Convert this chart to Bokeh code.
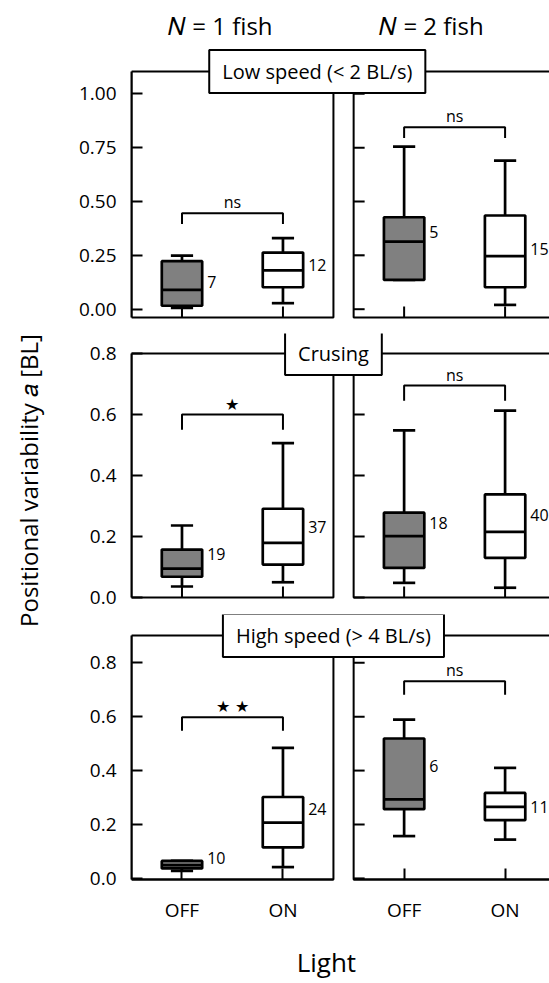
import math
from bokeh.plotting import figure
from bokeh.models import (ColumnDataSource, LinearAxis, FixedTicker, Label,
                          Range1d, NumeralTickFormatter)
from bokeh.layouts import column, row
from bokeh.embed import file_html
from bokeh.resources import INLINE
from bokeh.core.properties import value

# ---------------- data ----------------
groups = ["\U0001D441 = 1 fish", "\U0001D441 = 2 fish"]
light = ["OFF", "ON"]
speed_labels = ["Low speed (< 2 BL/s)", "Crusing", "High speed (> 4 BL/s)"]
y_title = "Positional variability \U0001D44E [BL]"
x_title = "Light"

# order in each row: N=1 OFF, N=1 ON, N=2 OFF, N=2 ON
low_whislo = [0.006, 0.028, 0.136, 0.020]
low_q1 = [0.016, 0.102, 0.136, 0.102]
low_med = [0.090, 0.180, 0.314, 0.246]
low_q3 = [0.223, 0.263, 0.427, 0.435]
low_whishi = [0.249, 0.330, 0.755, 0.690]
low_n = [7, 12, 5, 15]
low_mean = [0.125, 0.207, 0.357, 0.280]
low_bracket = [0.446, 0.845]
low_sig = ["ns", "ns"]

cru_whislo = [0.036, 0.050, 0.048, 0.032]
cru_q1 = [0.068, 0.108, 0.097, 0.130]
cru_med = [0.095, 0.179, 0.201, 0.215]
cru_q3 = [0.157, 0.291, 0.278, 0.338]
cru_whishi = [0.236, 0.506, 0.548, 0.613]
cru_n = [19, 37, 18, 40]
cru_mean = [0.144, 0.232, 0.245, 0.272]
cru_bracket = [0.600, 0.695]
cru_sig = ["\u2605", "ns"]

high_whislo = [0.028, 0.042, 0.157, 0.144]
high_q1 = [0.037, 0.115, 0.257, 0.216]
high_med = [0.049, 0.207, 0.293, 0.265]
high_q3 = [0.065, 0.302, 0.519, 0.317]
high_whishi = [0.065, 0.484, 0.589, 0.410]
high_n = [10, 24, 6, 11]
high_mean = [0.074, 0.256, 0.416, 0.265]
high_bracket = [0.598, 0.731]
high_sig = ["\u2605 \u2605", "ns"]

y_ticks_low = [0.0, 0.25, 0.5, 0.75, 1.0]
y_ticks_other = [0.0, 0.2, 0.4, 0.6, 0.8]

# ---------------- style ----------------
FONT = "Open Sans"
TOTAL_W = 549
TOTAL_H = 983
TITLE_W = 56
W = TOTAL_W - TITLE_W
LEFT_B = 131 - TITLE_W
GROUP_SHIFT = 2.2
X_MIN = -0.5
PX_PER_X = 100.97
X_MAX = X_MIN + (W - LEFT_B) / PX_PER_X
BOX_W = 0.4
CAP_W = 0.22
LEG = 0.05
OFF_FILL = "#808080"
LW = 2.7


def build_row(whislo, q1, med, q3, whishi, n, mean, bracket, sig,
              y0, y1, panel_px, pad_top, pad_bottom, yticks, fmt,
              label_text, label_cx, last=False):
    scale = panel_px / (y1 - y0)
    v0 = y0 - pad_bottom / scale
    v1 = y1 + pad_top / scale
    height = int(round(panel_px + pad_top + pad_bottom))
    p = figure(width=W, height=height, x_range=Range1d(X_MIN, X_MAX), y_range=Range1d(v0, v1),
               output_backend="svg", toolbar_location=None,
               x_axis_type=None, y_axis_type=None,
               min_border_left=LEFT_B, min_border_right=0,
               min_border_top=0, min_border_bottom=0)
    p.outline_line_color = None
    p.background_fill_color = "white"
    p.border_fill_color = "white"

    # left axis with tick labels
    yax = LinearAxis(ticker=FixedTicker(ticks=yticks), formatter=NumeralTickFormatter(format=fmt),
                     bounds=(y0, y1))
    yax.axis_line_width = 2
    yax.major_tick_line_width = 2
    yax.major_tick_in = 11
    yax.major_tick_out = 0
    yax.minor_tick_line_color = None
    yax.major_label_standoff = 15
    yax.major_label_text_font = FONT
    yax.major_label_text_font_size = "19px"
    yax.major_label_text_color = "black"
    p.add_layout(yax, "left")

    xs = [g * GROUP_SHIFT + k for g in range(len(groups)) for k in range(len(light))]

    # panel frames
    p.quad(left=[X_MIN, 1.5 + 0.2], right=[1.5, 1.7 + 2.0], bottom=[y0, y0], top=[y1, y1],
           fill_color=None, line_color="black", line_width=2)
    # right panel y ticks
    p.ray(x=[1.7] * len(yticks), y=yticks, length=11, length_units="screen", angle=0,
          line_color="black", line_width=2)

    if last:
        for ticks, bnds in ((xs[:2], (X_MIN, 1.5)), (xs[2:], (1.7, X_MAX))):
            xax = LinearAxis(ticker=FixedTicker(ticks=ticks), bounds=bnds, fixed_location=y0,
                             major_label_overrides={ticks[0]: light[0], ticks[1]: light[1]})
            xax.axis_line_width = 2
            xax.major_tick_line_width = 2
            xax.major_tick_in = 11
            xax.major_tick_out = 0
            xax.minor_tick_line_color = None
            xax.major_label_standoff = 17
            xax.major_label_text_font = FONT
            xax.major_label_text_font_size = "19px"
            xax.major_label_text_color = "black"
            p.add_layout(xax, "below")
    else:
        p.ray(x=xs, y=[y0] * len(xs), length=11, length_units="screen", angle=math.pi / 2,
              line_color="black", line_width=2)

    fills = [OFF_FILL, "white", OFF_FILL, "white"]
    src = ColumnDataSource(dict(
        x=xs, lo=whislo, q1=q1, med=med, q3=q3, hi=whishi,
        c0=[x - CAP_W / 2 for x in xs], c1=[x + CAP_W / 2 for x in xs],
        b0=[x - BOX_W / 2 for x in xs], b1=[x + BOX_W / 2 for x in xs],
        tx=[x + BOX_W / 2 for x in xs], mean=mean, nt=[str(v) for v in n], fill=fills))
    p.segment(x0="x", y0="q3", x1="x", y1="hi", source=src, line_color="black", line_width=LW)
    p.segment(x0="x", y0="lo", x1="x", y1="q1", source=src, line_color="black", line_width=LW)
    p.segment(x0="c0", y0="hi", x1="c1", y1="hi", source=src, line_color="black", line_width=LW)
    p.segment(x0="c0", y0="lo", x1="c1", y1="lo", source=src, line_color="black", line_width=LW)
    p.vbar(x="x", width=BOX_W, bottom="q1", top="q3", source=src, fill_color="fill",
           line_color="black", line_width=LW)
    p.segment(x0="b0", y0="med", x1="b1", y1="med", source=src, line_color="black", line_width=LW)
    p.text(x="tx", y="mean", text="nt", source=src, x_offset=5, text_baseline="middle",
           text_font=value(FONT), text_font_size="16px", text_color="black")

    # significance brackets
    bx0 = [xs[0], xs[2]]
    bx1 = [xs[1], xs[3]]
    bsrc = ColumnDataSource(dict(
        xs=[[a, a, b, b] for a, b in zip(bx0, bx1)],
        ys=[[y - LEG, y, y, y - LEG] for y in bracket],
        mx=[(a + b) / 2 for a, b in zip(bx0, bx1)], y=bracket, t=sig))
    p.multi_line(xs="xs", ys="ys", source=bsrc, line_color="black", line_width=2)
    p.text(x="mx", y="y", text="t", source=bsrc, text_align="center", text_baseline="bottom",
           text_font=value(FONT), text_font_size="16px", text_color="black")

    p.add_layout(Label(x=label_cx, y=y1, text=label_text, text_align="center", text_baseline="middle",
                       text_font=FONT, text_font_size="20px", text_color="black",
                       background_fill_color="white", border_line_color="black",
                       border_line_width=2, padding=(13, 8)))
    return p, scale


p1, s1 = build_row(low_whislo, low_q1, low_med, low_q3, low_whishi, low_n, low_mean, low_bracket, low_sig,
                   -0.0385, 1.1035, 246, 71, 16, y_ticks_low, "0.00", speed_labels[0], 1.34)
p2, s2 = build_row(cru_whislo, cru_q1, cru_med, cru_q3, cru_whishi, cru_n, cru_mean, cru_bracket, cru_sig,
                   0.0, 0.8, 244, 20, 17, y_ticks_other, "0.0", speed_labels[1], 1.5)
p3, s3 = build_row(high_whislo, high_q1, high_med, high_q3, high_whishi, high_n, high_mean, high_bracket,
                   high_sig, -0.004, 0.901, 244, 21, 104, y_ticks_other, "0.0", speed_labels[2], 1.5,
                   last=True)

# column headers (46 px above the top panel edge)
for gx, g in zip([0.38, 2.47], groups):
    p1.add_layout(Label(x=gx, y=1.1035 + 46 / s1, text=g, text_align="center", text_baseline="middle",
                        text_font=FONT, text_font_size="24px", text_color="black"))

# x title (below the bottom panel edge)
p3.add_layout(Label(x=1.43, y=-0.004 - 82 / s3, text=x_title, text_align="center",
                    text_baseline="middle", text_font=FONT, text_font_size="26px", text_color="black"))

# y title in its own narrow strip spanning all rows
pt = figure(width=TITLE_W, height=TOTAL_H, x_range=Range1d(0, TITLE_W), y_range=Range1d(0, TOTAL_H),
            output_backend="svg", toolbar_location=None, x_axis_type=None, y_axis_type=None,
            min_border=0, min_border_left=0, min_border_right=0, min_border_top=0, min_border_bottom=0)
pt.outline_line_color = None
pt.xgrid.visible = False
pt.ygrid.visible = False
pt.add_layout(Label(x=28, y=TOTAL_H - 480, text=y_title, angle=math.pi / 2, text_align="center",
                    text_baseline="middle", text_font=FONT, text_font_size="24px", text_color="black"))

layout = row(pt, column(p1, p2, p3, spacing=0), spacing=0)
open("out.html", "w").write(file_html(layout, INLINE))
